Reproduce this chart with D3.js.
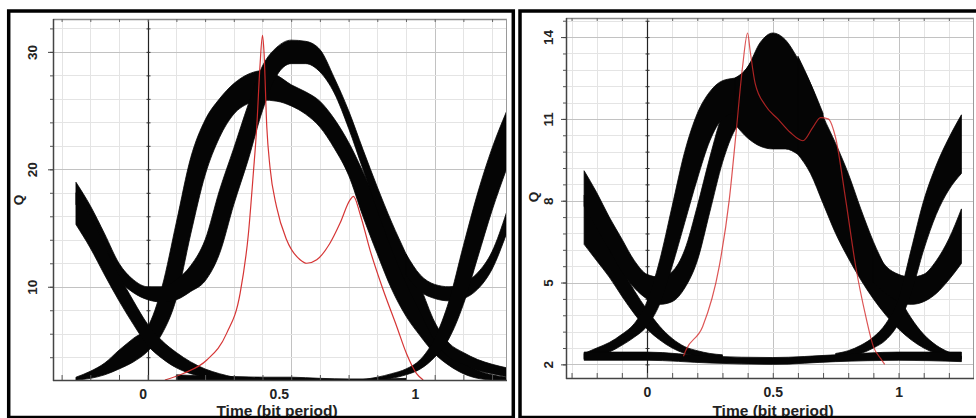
<!DOCTYPE html>
<html>
<head>
<meta charset="utf-8">
<script src="https://cdn.jsdelivr.net/npm/d3@7"></script>
<style>
  body { margin: 0; background: #fff; }
  svg { display: block; font-family: "Liberation Sans", Arial, sans-serif; }
</style>
</head>
<body>
<svg id="chart" width="976" height="418"></svg>
<script>

// ---- tick values
var xMinor = [-0.3,-0.2,-0.1,0,0.1,0.2,0.3,0.4,0.5,0.6,0.7,0.8,0.9,1,1.1,1.2,1.3];
var xMajor = [0, 0.5, 1];
var xLabels = ["0", "0.5", "1"];
var leftYMinor = [2,4,6,8,10,12,14,16,18,20,22,24,26,28,30,32];
var leftYMajor = [10, 20, 30];
var rightYMinor = [1.4,2,2.6,3.2,3.8,4.4,5,5.6,6.2,6.8,7.4,8,8.6,9.2,9.8,10.4,11,11.6,12.2,12.8,13.4,14,14.6];
var rightYMajor = [2, 5, 8, 11, 14];

// ---- shared time grid (bit period)
var tGrid = [-0.25,-0.2,-0.15,-0.1,-0.05,0,0.05,0.1,0.15,0.2,0.25,0.3,0.35,0.4,0.45,0.5,
             0.55,0.6,0.65,0.7,0.75,0.8,0.85,0.9,0.95,1,1.05,1.1,1.15,1.2,1.25];

// ---- left eye, bands of traces (upper / lower edge of each black bundle)
var l01Hi = [2.3,2.8,3.5,4.6,5.6,6.6,10,15.5,21,24.2,26,27.3,28.1,28.4,28,27.2,26.6,25.8,24.3,22.3,19.8,17,14,11.2,8.6,6.4,4.8,3.6,2.9,2.5,2.3];
var l01Lo = [2.05,2.2,2.5,3,3.6,4.5,6,9,14.5,19.5,22.7,24.7,25.6,25.9,25.8,25.4,24.7,23.6,21.8,19.5,16,12.8,9.8,7.5,5.8,4.3,3.3,2.6,2.2,2.05,2];
var l11Hi = [18.9,16.9,14.5,12,10.6,10,10,10.6,11.8,14,18.2,21.8,25.5,28.8,30.4,31,30.9,30.2,27.8,25,21.7,18.5,15.5,12.8,10,7,5.2,4.4,3.8,3.4,3.1];
var l11Lo = [17,15,12.7,10.6,9.5,8.9,8.7,8.9,9.6,10.5,12.8,17,20.8,25,28,29,29,28.3,26.5,23.5,20,16.5,13.2,10.3,7.8,5.4,4,3.4,2.9,2.6,2.35];

var l10T  = [-0.25,-0.2,-0.15,-0.1,-0.05,0,0.05,0.1,0.15,0.2,0.25,0.3];
var l10Hi = [18,16,13.5,11,8.8,6.8,5.4,4.4,3.6,3,2.6,2.3];
var l10Lo = [15.3,13.3,11,8.8,6.8,5,3.9,3.1,2.6,2.3,2.1,2];

var lDipT  = [0.9,0.95,1,1.05,1.1,1.15,1.2,1.25];
var lDipHi = [12.8,11,10.2,10,10.3,11.2,13,16.3];
var lDipLo = [11,9.6,9,8.8,9,9.8,11.5,14.5];

var lRiseT  = [0.75,0.8,0.85,0.9,0.95,1,1.05,1.1,1.15,1.2,1.25];
var lRiseHi = [2.1,2.3,2.6,3,3.8,5.6,8.8,13.5,18,21.8,24.9];
var lRiseLo = [2,2.05,2.2,2.5,3,4,5.6,8.5,12.5,16.5,20];

var lBaseT  = [0.1,0.2,0.3,0.4,0.5,0.6,0.7,0.8,0.9];
var lBaseHi = [2.5,2.4,2.35,2.3,2.3,2.2,2.15,2.15,2.2];
var lBaseLo = [2,2,2,2,2,2,2,2,2];

var redLT = [0.06,0.124,0.206,0.275,0.322,0.351,0.368,0.38,0.391,0.4,0.405,0.415,0.426,0.449,0.484,
             0.531,0.554,0.589,0.635,0.67,0.705,0.717,0.74,0.775,0.821,0.868,0.902,0.937,0.96];
var redLQ = [2.06,2.62,3.76,6.03,9.43,14.54,19.65,23.6,28.7,31.4,30.1,23.6,20.2,16.8,14,
             12.3,12,12.3,13.7,15.4,17.4,17.7,16.2,13.1,9.7,6.6,4.3,2.6,2.06];

// ---- right eye
var r10T  = [-0.25,-0.2,-0.15,-0.1,-0.05,0,0.05,0.1,0.15,0.2,0.25,0.3];
var r10Hi = [8.2,7.3,6.4,5.5,4.7,4,3.4,2.95,2.65,2.5,2.4,2.35];
var r10Lo = [6.4,5.8,5.2,4.5,3.85,3.3,2.9,2.6,2.4,2.3,2.25,2.2];

var r11T  = [-0.25,-0.2,-0.15,-0.1,-0.05,0,0.05,0.1,0.15,0.2,0.25,0.3,0.35,0.4,0.45];
var r11Hi = [9.1,8.3,7.4,6.6,5.8,5.3,5.2,5.4,6.2,7.8,9.6,11.2,12.2,12.9,13.6];
var r11Lo = [7.8,7,6.2,5.4,4.8,4.4,4.2,4.3,4.8,5.8,7.6,9.4,10.6,11,10.8];

var r01T  = [-0.25,-0.2,-0.15,-0.1,-0.05,0,0.05,0.1,0.15,0.2,0.25,0.3,0.35,0.4,0.45];
var r01Hi = [2.4,2.6,2.8,3.1,3.5,4.3,5.8,7.8,9.8,11.2,12,12.4,12.5,12.6,12.8];
var r01Lo = [2.2,2.3,2.45,2.7,3,3.4,4.2,5.6,7.2,8.8,10.2,11,11.2,11,10.6];

var rHumpT  = [0.35,0.4,0.45,0.5,0.55,0.6,0.65,0.7];
var rHumpHi = [12.5,12.9,13.8,14.15,13.9,13.2,12.3,11.2];
var rHumpLo = [10.8,10.3,10,9.9,9.9,9.7,9.3,8.7];

var rFallT  = [0.6,0.65,0.7,0.75,0.8,0.85,0.9,0.95,1,1.05,1.1,1.15,1.2,1.25];
var rFallHi = [13.3,12.3,11.1,10.1,9,7.7,6.5,5.5,4.5,3.7,3.1,2.7,2.45,2.3];
var rFallLo = [9.7,9,7.9,6.8,5.9,5.1,4.4,3.8,3.3,2.9,2.6,2.4,2.3,2.2];

var rDipT  = [0.9,0.95,1,1.05,1.1,1.15,1.2,1.25];
var rDipHi = [6.3,5.6,5.3,5.2,5.3,5.8,6.6,7.7];
var rDipLo = [5,4.6,4.3,4.2,4.3,4.6,5.1,5.7];

var rRiseT  = [0.75,0.8,0.85,0.9,0.95,1,1.05,1.1,1.15,1.2,1.25];
var rRiseHi = [2.4,2.5,2.7,3,3.5,4.4,6.2,8,9.3,10.3,11.15];
var rRiseLo = [2.25,2.3,2.4,2.6,2.9,3.5,4.6,6.2,7.5,8.4,9];

var rBaseT  = [-0.25,0,0.25,0.5,0.75,1,1.25];
var rBaseHi = [2.45,2.45,2.3,2.25,2.35,2.45,2.45];
var rBaseLo = [2.15,2.15,2.05,2,2.1,2.15,2.1];

var redRT = [0.145,0.155,0.221,0.287,0.327,0.354,0.38,0.4,0.41,0.43,0.47,0.52,0.57,0.62,0.66,
             0.69,0.72,0.75,0.79,0.83,0.87,0.9,0.93,0.945];
var redRQ = [2.3,2.53,3.38,5.58,8.03,10.48,12.92,14.15,13.5,12.3,11.5,11,10.5,10.2,10.7,
             11.05,11,10.3,8.03,5.58,3.75,2.65,2.2,2];

function band(t, hi, lo) {
  return t.map(function(d, i) { return {t: d, hi: hi[i], lo: lo[i]}; });
}
function curve(t, q) {
  return t.map(function(d, i) { return {t: d, q: q[i]}; });
}

var svg = d3.select("#chart");

function drawPanel(p) {
  var x = d3.scaleLinear().domain(p.xDomain).range([p.x0, p.x1]);
  var y = d3.scaleLinear().domain(p.yDomain).range([p.y1, p.y0]);
  var xl = d3.scaleLinear().domain([0, 1]).range(p.labelRange || [x(0), x(1)]);
  var g = svg.append("g");

  g.append("clipPath").attr("id", "clip" + p.id)
    .append("rect")
    .attr("x", p.x0).attr("y", p.y0)
    .attr("width", p.x1 - p.x0).attr("height", p.y1 - p.y0);

  var inX = xMinor.filter(function(d) { return x(d) > p.x0 && x(d) < p.x1; });
  var inY = p.yMinor.filter(function(d) { return y(d) > p.y0 && y(d) < p.y1; });

  // grid
  var grid = g.append("g");
  grid.selectAll(".vmin").data(inX)
    .enter().append("line")
    .attr("x1", function(d) { return Math.round(x(d)) + 0.5; })
    .attr("x2", function(d) { return Math.round(x(d)) + 0.5; })
    .attr("y1", p.y0).attr("y2", p.y1)
    .attr("stroke", function(d) { return xMajor.indexOf(d) >= 0 ? "#c2c2c2" : "#e4e4e4"; });
  grid.selectAll(".hmin").data(inY)
    .enter().append("line")
    .attr("y1", function(d) { return Math.round(y(d)) + 0.5; })
    .attr("y2", function(d) { return Math.round(y(d)) + 0.5; })
    .attr("x1", p.x0).attr("x2", p.x1)
    .attr("stroke", function(d) { return p.yMajor.indexOf(d) >= 0 ? "#c2c2c2" : "#e4e4e4"; });

  // black line at t = 0 with its ticks
  var x0 = Math.round(x(0)) + 0.5;
  g.append("line").attr("x1", x0).attr("x2", x0).attr("y1", p.y0).attr("y2", p.y1)
    .attr("stroke", "#222").attr("stroke-width", 1.2);
  g.append("g").attr("transform", "translate(" + (x0 + 2) + ",0)")
    .call(d3.axisLeft(y).tickValues(inY).tickSize(4).tickFormat(""))
    .call(function(s) { s.select(".domain").remove(); s.selectAll("line").attr("stroke", "#333"); });

  // traces
  var area = d3.area()
    .x(function(d) { return x(d.t); })
    .y0(function(d) { return y(d.lo); })
    .y1(function(d) { return y(d.hi); })
    .curve(d3.curveMonotoneX);
  var plot = g.append("g").attr("clip-path", "url(#clip" + p.id + ")");
  plot.selectAll(".band").data(p.bands).enter().append("path")
    .attr("class", "band")
    .attr("d", area)
    .attr("fill", "#050505")
    .attr("stroke", "#050505")
    .attr("stroke-width", 0.8);

  var line = d3.line()
    .x(function(d) { return x(d.t); })
    .y(function(d) { return y(d.q); })
    .curve(d3.curveMonotoneX);
  plot.append("path").datum(p.red)
    .attr("d", line)
    .attr("fill", "none")
    .attr("stroke", "#d42a2a")
    .attr("stroke-width", 1.2)
    .attr("stroke-opacity", p.redOpacity);

  // frame
  g.append("line").attr("x1", p.x0).attr("x2", p.x1).attr("y1", p.y0 + 0.5).attr("y2", p.y0 + 0.5)
    .attr("stroke", "#8a8a8a").attr("stroke-width", 1.5);
  g.append("line").attr("x1", p.x1 - 0.5).attr("x2", p.x1 - 0.5).attr("y1", p.y0).attr("y2", p.y1)
    .attr("stroke", "#9a9a9a");
  g.append("line").attr("x1", p.x0 + 0.5).attr("x2", p.x0 + 0.5).attr("y1", p.y0).attr("y2", p.y1 + 1)
    .attr("stroke", "#444").attr("stroke-width", 1.5);
  g.append("line").attr("x1", p.x0).attr("x2", p.x1).attr("y1", p.y1 + 0.5).attr("y2", p.y1 + 0.5)
    .attr("stroke", "#444").attr("stroke-width", 1.5);

  // top ticks
  g.append("g").attr("transform", "translate(0," + p.y0 + ")")
    .call(d3.axisTop(x).tickValues(inX).tickSize(-3).tickFormat(""))
    .call(function(s) { s.select(".domain").remove(); s.selectAll("line").attr("stroke", "#666"); });

  // bottom ticks and labels
  g.append("g").attr("transform", "translate(0," + p.y1 + ")")
    .call(d3.axisBottom(x).tickValues(inX).tickSizeInner(-5).tickSizeOuter(0).tickFormat(""))
    .call(function(s) { s.select(".domain").remove(); s.selectAll("line").attr("stroke", "#555"); });
  g.append("g").attr("transform", "translate(0," + p.y1 + ")")
    .call(d3.axisBottom(xl).tickValues(xMajor).tickSize(0)
      .tickFormat(function(d, i) { return xLabels[i]; }))
    .call(function(s) {
      s.select(".domain").remove();
      s.selectAll("text").attr("y", 9).attr("dy", "0.71em")
        .attr("font-size", 14).attr("font-weight", "bold").attr("fill", "#222")
        .attr("font-family", "'Liberation Sans', Arial, sans-serif");
    });

  // left ticks and labels
  g.append("g").attr("transform", "translate(" + p.x0 + ",0)")
    .call(d3.axisLeft(y).tickValues(inY).tickSize(3).tickFormat(""))
    .call(function(s) { s.select(".domain").remove(); s.selectAll("line").attr("stroke", "#555"); });
  g.append("g").attr("transform", "translate(" + p.x0 + ",0)")
    .call(d3.axisLeft(y).tickValues(p.yMajor).tickSize(5))
    .call(function(s) {
      s.select(".domain").remove();
      s.selectAll("line").attr("stroke", "#444");
      s.selectAll("text")
        .attr("x", null).attr("dy", null)
        .attr("text-anchor", "middle")
        .attr("transform", "translate(" + p.yLabelDx + ",0) rotate(-90)")
        .attr("font-size", 13.5).attr("font-weight", "bold").attr("fill", "#222")
        .attr("font-family", "'Liberation Sans', Arial, sans-serif");
    });

  // axis titles
  g.append("text")
    .attr("transform", "translate(" + p.qPos[0] + "," + p.qPos[1] + ") rotate(-90)")
    .attr("text-anchor", "middle")
    .attr("font-size", 13.5).attr("font-weight", "bold").attr("fill", "#222")
    .text("Q");
  g.append("text")
    .attr("x", p.titleX).attr("y", 415.5)
    .attr("text-anchor", "middle")
    .attr("font-size", 15.5).attr("font-weight", "bold").attr("fill", "#222")
    .text("Time (bit period)");

  // panel border
  g.append("rect")
    .attr("x", p.border[0]).attr("y", p.border[1])
    .attr("width", p.border[2]).attr("height", p.border[3])
    .attr("fill", "none").attr("stroke", "#000").attr("stroke-width", 3.5);
}

drawPanel({
  id: "L",
  x0: 53, x1: 507, y0: 19, y1: 380,
  xDomain: [-0.33, 1.252], yDomain: [2.06, 32.8],
  labelRange: [142.7, 415],
  yMinor: leftYMinor, yMajor: leftYMajor,
  yLabelDx: -16,
  qPos: [22.5, 200],
  titleX: 277,
  border: [8.7, 11, 504.6, 406.5],
  redOpacity: 0.95,
  bands: [
    band(tGrid, l01Hi, l01Lo),
    band(tGrid, l11Hi, l11Lo),
    band(l10T, l10Hi, l10Lo),
    band(lDipT, lDipHi, lDipLo),
    band(lRiseT, lRiseHi, lRiseLo),
    band(lBaseT, lBaseHi, lBaseLo)
  ],
  red: curve(redLT, redLQ)
});

drawPanel({
  id: "R",
  x0: 566, x1: 974, y0: 18, y1: 378,
  xDomain: [-0.322, 1.3], yDomain: [1.5, 14.7],
  yMinor: rightYMinor, yMajor: rightYMajor,
  yLabelDx: -13,
  qPos: [538, 197],
  titleX: 773,
  border: [520, 11, 462, 406.5],
  redOpacity: 0.8,
  bands: [
    band(r10T, r10Hi, r10Lo),
    band(r11T, r11Hi, r11Lo),
    band(r01T, r01Hi, r01Lo),
    band(rHumpT, rHumpHi, rHumpLo),
    band(rFallT, rFallHi, rFallLo),
    band(rDipT, rDipHi, rDipLo),
    band(rRiseT, rRiseHi, rRiseLo),
    band(rBaseT, rBaseHi, rBaseLo)
  ],
  red: curve(redRT, redRQ)
});

</script>
</body>
</html>
